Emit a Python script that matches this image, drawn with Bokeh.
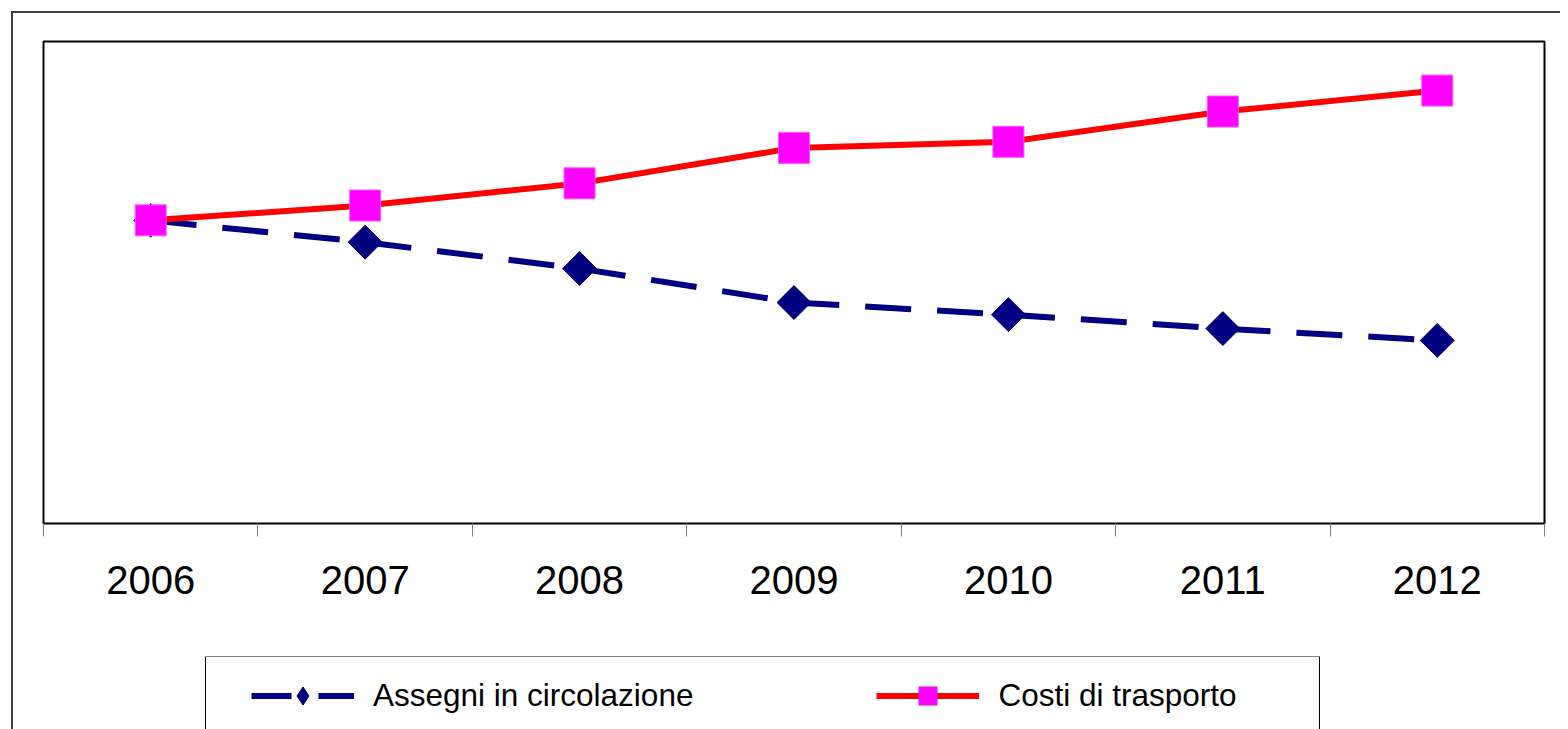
import math
from bokeh.plotting import figure
from bokeh.layouts import column
from bokeh.models import (Range1d, LinearAxis, FixedTicker, Legend, LegendItem,
                          CustomJSTickFormatter, BoxAnnotation)
from bokeh.embed import file_html
from bokeh.resources import INLINE

years = ["2006", "2007", "2008", "2009", "2010", "2011", "2012"]
assegni = [100.0, 92.8, 84.1, 72.9, 68.9, 64.3, 60.4]
costi = [100.0, 104.9, 112.2, 123.9, 125.9, 135.9, 142.8]
labels = ["Assegni in circolazione", "Costi di trasporto"]

xs = [i + 0.5 for i in range(len(years))]

NAVY = "#000080"
RED = "#ff0000"
MAGENTA = "#ff00ff"

# ---------------- main chart ----------------
p = figure(width=1547, height=643, output_backend="svg", toolbar_location=None,
           x_range=Range1d(0, len(years)), y_range=Range1d(0, 159),
           x_axis_location=None, y_axis_location=None,
           min_border_left=30, min_border_top=28, min_border_right=16,
           min_border_bottom=133)
p.grid.visible = False
p.outline_line_color = "black"
p.outline_line_width = 2
p.background_fill_color = "white"
p.border_fill_color = "white"

tick_axis = LinearAxis(ticker=FixedTicker(ticks=list(range(len(years) + 1))),
                       formatter=CustomJSTickFormatter(code="return ''"),
                       axis_line_color=None, major_tick_in=0, major_tick_out=13,
                       major_tick_line_color="#808080", major_tick_line_width=1,
                       minor_tick_line_color=None, major_label_standoff=0)
label_axis = LinearAxis(ticker=FixedTicker(ticks=xs),
                        formatter=CustomJSTickFormatter(args=dict(years=years),
                                                        code="return years[Math.floor(tick)]"),
                        axis_line_color=None, major_tick_line_color=None,
                        major_tick_in=0, major_tick_out=0, minor_tick_line_color=None,
                        major_label_text_font_size="40px",
                        major_label_text_font="Liberation Sans",
                        major_label_text_color="black",
                        major_label_standoff=29)
p.add_layout(tick_axis, "below")
p.add_layout(label_axis, "below")

l1 = p.line(xs, assegni, line_color=NAVY, line_width=6, line_dash="46 26")
s1 = p.scatter(xs, assegni, marker="square", size=24, angle=math.pi / 4,
               fill_color=NAVY, line_color=NAVY)
l2 = p.line(xs, costi, line_color=RED, line_width=6)
s2 = p.scatter(xs, costi, marker="square", size=31, fill_color=MAGENTA,
               line_color="#ff55ff")

# ---------------- legend strip (screen-aligned ranges) ----------------
lf = figure(width=1547, height=73, output_backend="svg", toolbar_location=None,
            x_range=Range1d(43, 1544), y_range=Range1d(729, 656),
            x_axis_location=None, y_axis_location=None,
            min_border_left=30, min_border_right=16, min_border_top=0,
            min_border_bottom=0)
lf.grid.visible = False
lf.outline_line_color = None
lf.background_fill_color = "white"
lf.border_fill_color = "white"

lf.add_layout(BoxAnnotation(left=205, right=1319, top=656, bottom=800,
                            fill_alpha=0, line_color="black", line_alpha=1,
                            line_width=1))

# proxies for the legend samples (hidden; only their legend glyphs are shown)
g1 = lf.line(xs, assegni, line_color=NAVY, line_width=6, line_dash="40 27", visible=False)
m1 = lf.scatter(xs, assegni, marker="diamond", size=28,
                fill_color=NAVY, line_color=NAVY, visible=False)
g2 = lf.line(xs, costi, line_color=RED, line_width=6, visible=False)
m2 = lf.scatter(xs, costi, marker="square", size=18, fill_color=MAGENTA,
                line_color=MAGENTA, visible=False)

legend = Legend(items=[LegendItem(label=labels[0], renderers=[g1, m1]),
                       LegendItem(label=labels[1], renderers=[g2, m2])],
                orientation="horizontal", location=(208, 11),
                glyph_width=103, glyph_height=45, label_standoff=19, spacing=183,
                padding=0, margin=0,
                label_text_font_size="31.5px", label_text_font="Liberation Sans",
                label_text_color="black",
                inactive_fill_alpha=0,
                border_line_color=None, background_fill_alpha=0)
lf.add_layout(legend)

col = column(p, lf, spacing=0)
col.margin = (11, 0, 0, 11)
col.styles = {"border-left": "2px solid #404040", "border-top": "2px solid #404040"}

open("out.html", "w").write(file_html(col, INLINE))
